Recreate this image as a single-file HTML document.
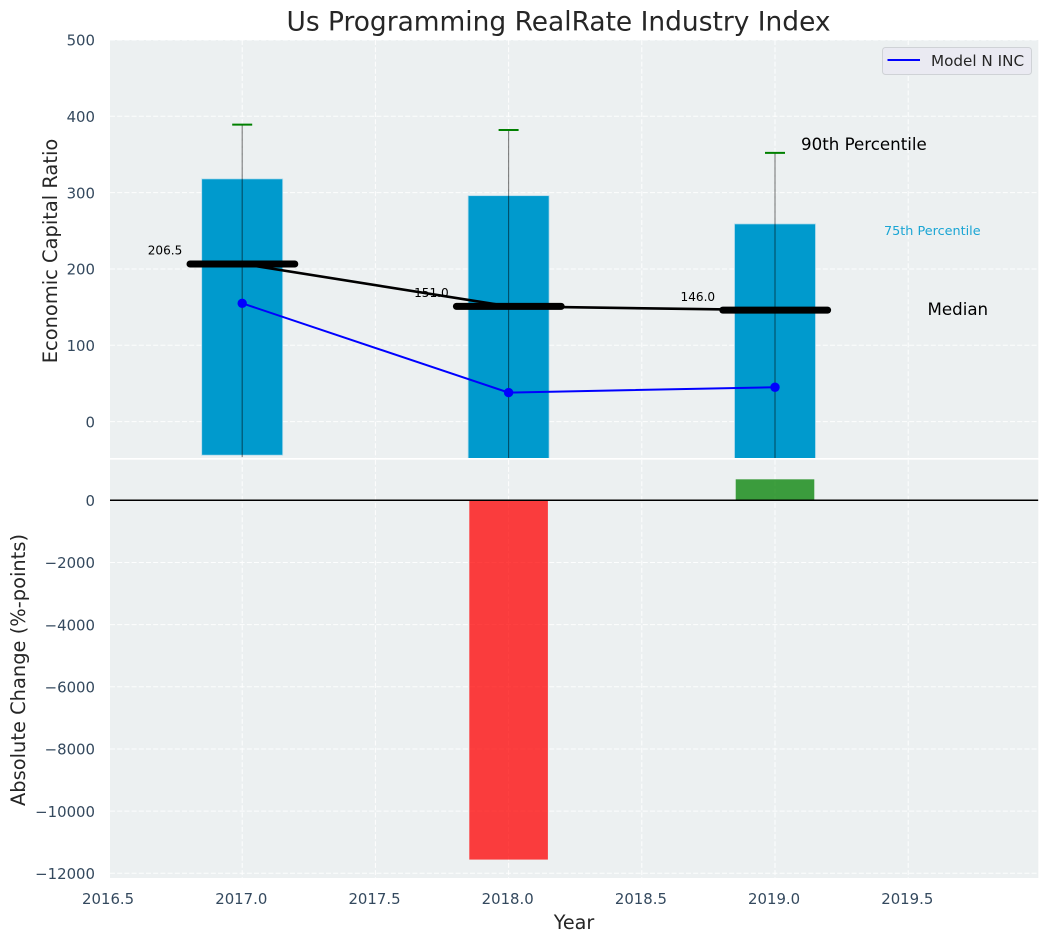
<!DOCTYPE html>
<html>
<head>
<meta charset="utf-8">
<title>Us Programming RealRate Industry Index</title>
<style>
html,body{margin:0;padding:0;background:#fff;width:1048px;height:942px;overflow:hidden}
svg{display:block;font-family:"DejaVu Sans","Liberation Sans",sans-serif}
</style>
</head>
<body>
<svg id="chart" width="1048" height="942" viewBox="0 0 1048 942" xmlns="http://www.w3.org/2000/svg"></svg>
<script>
const years = [2017, 2018, 2019];
const p75Values = [318, 296, 259];
const p25Values = [-44, -60, -60];
const p90Values = [389, 382, 352];
const medianValues = [206.5, 151.0, 146.0];
const modelValues = [155, 38, 45];
const changeValues = [0, -11560, 675];
const xTicks = [2016.5, 2017.0, 2017.5, 2018.0, 2018.5, 2019.0, 2019.5];
const topYTicks = [0, 100, 200, 300, 400, 500];
const bottomYTicks = [0, -2000, -4000, -6000, -8000, -10000, -12000];

const svg = document.getElementById('chart');
const NS = 'http://www.w3.org/2000/svg';
const L = 110, R = 1038.3, T1 = 40, B1 = 458, T2 = 459.7, B2 = 878;
const x = v => 242.2 + (v - 2017) * 266.4;
const y1 = v => 421.6 - v * 0.7633;
const y2 = v => 500.3 - v * 0.03108;
const BAR_W = 0.304;
const CHANGE_W = 0.295;
const TICK_SIZE = 14.9;

function add(parent, tag, attrs, text) {
  const e = document.createElementNS(NS, tag);
  for (const k in attrs) e.setAttribute(k, attrs[k]);
  if (text !== undefined) e.textContent = text;
  parent.appendChild(e);
  return e;
}
function fmt(v) { return String(v).replace('-', '\u2212'); }

const defs = add(svg, 'defs', {});
const c1 = add(defs, 'clipPath', {id: 'clip-top'});
add(c1, 'rect', {x: L, y: T1, width: R - L, height: B1 - T1});
const c2 = add(defs, 'clipPath', {id: 'clip-bottom'});
add(c2, 'rect', {x: L, y: T2, width: R - L, height: B2 - T2});

const bg1 = add(svg, 'rect', {x: L, y: T1, width: R - L, height: B1 - T1, fill: '#ecf0f1'});


const bg2 = add(svg, 'rect', {x: L, y: T2, width: R - L, height: B2 - T2, fill: '#ecf0f1'});



const gridStyle = {stroke: '#ffffff', 'stroke-width': 1, 'stroke-dasharray': '5,2.2', 'stroke-opacity': 0.9};
const topPanel = add(svg, 'g', {'clip-path': 'url(#clip-top)'});


const bottomPanel = add(svg, 'g', {'clip-path': 'url(#clip-bottom)'});



xTicks.forEach(t => {
  const g1 = add(topPanel, 'line', Object.assign({x1: x(t), x2: x(t), y1: T1, y2: B1}, gridStyle));
  
  
  const g2 = add(bottomPanel, 'line', Object.assign({x1: x(t), x2: x(t), y1: T2, y2: B2}, gridStyle));
  
  
  const lab = add(svg, 'text', {x: x(t) - 0.9, y: 904, 'text-anchor': 'middle', 'font-size': TICK_SIZE, fill: '#34495e'}, t.toFixed(1));
  
  
});
topYTicks.forEach(t => {
  const g = add(topPanel, 'line', Object.assign({x1: L, x2: R, y1: y1(t), y2: y1(t)}, gridStyle));
  
  
  const lab = add(svg, 'text', {x: 95, y: y1(t) + 5.7, 'text-anchor': 'end', 'font-size': TICK_SIZE, fill: '#34495e'}, fmt(t));
  
  
});
bottomYTicks.forEach(t => {
  const g = add(bottomPanel, 'line', Object.assign({x1: L, x2: R, y1: y2(t), y2: y2(t)}, gridStyle));
  
  
  const lab = add(svg, 'text', {x: 95, y: y2(t) + 5.7, 'text-anchor': 'end', 'font-size': TICK_SIZE, fill: '#34495e'}, fmt(t));
  
  
});

years.forEach((yr, i) => {
  const bar = add(topPanel, 'rect', {
    x: x(yr - BAR_W / 2), y: y1(p75Values[i]),
    width: x(yr + BAR_W / 2) - x(yr - BAR_W / 2),
    height: y1(p25Values[i]) - y1(p75Values[i]),
    fill: '#009acd', stroke: '#b5dcec', 'stroke-width': 0.8
  });
  
  
});
years.forEach((yr, i) => {
  const w = add(topPanel, 'line', {x1: x(yr), x2: x(yr), y1: y1(p90Values[i]), y2: y1(p25Values[i]) + 2, stroke: '#000', 'stroke-opacity': 0.5, 'stroke-width': 1.1});
  
  
  const cap = add(topPanel, 'line', {x1: x(yr) - 10, x2: x(yr) + 10, y1: y1(p90Values[i]), y2: y1(p90Values[i]), stroke: '#008000', 'stroke-width': 2});
  
  
});

const medianPts = years.map((yr, i) => x(yr) + ',' + y1(medianValues[i])).join(' ');
const medianLine = add(topPanel, 'polyline', {points: medianPts, fill: 'none', stroke: '#000', 'stroke-width': 2.6});



years.forEach((yr, i) => {
  const m = add(topPanel, 'line', {x1: x(yr) - 52.2, x2: x(yr) + 52.6, y1: y1(medianValues[i]), y2: y1(medianValues[i]), stroke: '#000', 'stroke-width': 7, 'stroke-linecap': 'round'});
  
  
  const lab = add(topPanel, 'text', {x: x(yr) - 94.5, y: y1(medianValues[i]) - 9.3, 'font-size': 12.1, fill: '#000'}, medianValues[i].toFixed(1));
  
  
});

const modelPts = years.map((yr, i) => x(yr) + ',' + y1(modelValues[i])).join(' ');
const modelLine = add(topPanel, 'polyline', {points: modelPts, fill: 'none', stroke: '#0000ff', 'stroke-width': 2});


years.forEach((yr, i) => {
  const p = add(topPanel, 'circle', {cx: x(yr), cy: y1(modelValues[i]), r: 4.7, fill: '#0000ff'});
  
  
});

years.forEach((yr, i) => {
  const v = changeValues[i];
  if (v === 0) return;
  const a = x(yr - CHANGE_W / 2), b = x(yr + CHANGE_W / 2);
  const bar = add(bottomPanel, 'rect', {
    x: a, y: Math.min(y2(v), y2(0)), width: b - a, height: Math.abs(y2(v) - y2(0)),
    fill: v < 0 ? '#ff0000' : '#008000', 'fill-opacity': 0.75
  });
  
  
});
const zeroLine = add(bottomPanel, 'line', {x1: L, x2: R, y1: y2(0), y2: y2(0), stroke: '#000', 'stroke-width': 1.5});



const chartTitle = add(svg, 'text', {x: 558.5, y: 30.5, 'text-anchor': 'middle', 'font-size': 26.45, fill: '#262626'}, 'Us Programming RealRate Industry Index');


const xTitle = add(svg, 'text', {x: 574, y: 929, 'text-anchor': 'middle', 'font-size': 19.2, fill: '#262626'}, 'Year');


const yTitleTop = add(svg, 'text', {x: 0, y: 0, transform: 'translate(57,251) rotate(-90)', 'text-anchor': 'middle', 'font-size': 19.44, fill: '#262626'}, 'Economic Capital Ratio');


const yTitleBottom = add(svg, 'text', {x: 0, y: 0, transform: 'translate(25,670) rotate(-90)', 'text-anchor': 'middle', 'font-size': 19.44, fill: '#262626'}, 'Absolute Change (%-points)');



const a90 = add(svg, 'text', {x: 801, y: 150, 'font-size': 16.67, fill: '#000'}, '90th Percentile');


const a75 = add(svg, 'text', {x: 884, y: 235, 'font-size': 12.8, fill: '#1aa5d4'}, '75th Percentile');


const aMed = add(svg, 'text', {x: 927.5, y: 315, 'font-size': 16.67, fill: '#000'}, 'Median');



const legendGroup = add(svg, 'g', {});


add(legendGroup, 'rect', {x: 882.5, y: 47.5, width: 149, height: 27, rx: 3, fill: '#eaeaf2', stroke: '#cfd2d6', 'stroke-width': 1});
add(legendGroup, 'line', {x1: 887.5, x2: 920, y1: 60, y2: 60, stroke: '#0000ff', 'stroke-width': 2});
const legText = add(legendGroup, 'text', {x: 931, y: 66, 'font-size': 15.2, fill: '#262626'}, 'Model N INC');


</script>
</body>
</html>
